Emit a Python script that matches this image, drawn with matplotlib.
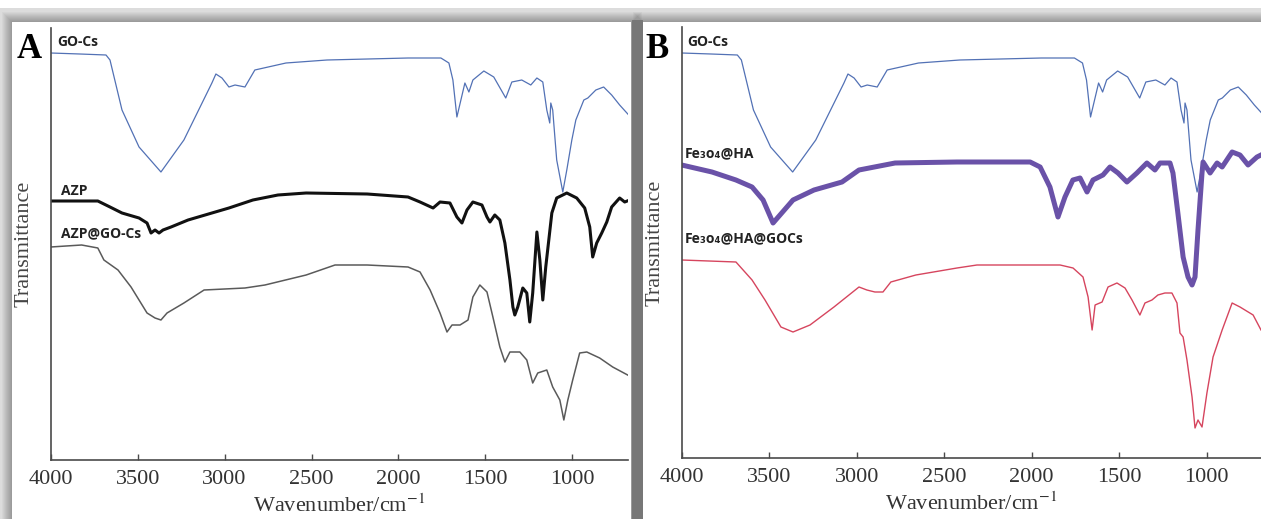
import numpy as np
import matplotlib
matplotlib.use("Agg")
import matplotlib.pyplot as plt
from matplotlib.patches import Rectangle

plt.rcParams['mathtext.fontset'] = 'stix'

### Spectra (wavenumber in cm-1, transmittance in a.u.) ###

# GO-Cs (same spectrum in both panels)
wn_gocs = [4000, 3832, 3682, 3659, 3590, 3492, 3366, 3234, 3073, 3050, 3015, 2975, 2940, 2883,
           2826, 2647, 2411, 1945, 1756, 1710, 1687, 1664, 1641, 1618, 1595, 1572, 1509, 1452,
           1383, 1348, 1291, 1239, 1204, 1170, 1147, 1130, 1124, 1113, 1090, 1055, 1032, 1003,
           980, 934, 911, 865, 820, 774, 728, 676]
t_gocs = [407, 406, 405, 400, 350, 313, 288, 320, 377, 386, 382, 373, 375, 373,
          390, 397, 400, 402, 402, 397, 380, 343, 360, 377, 368, 380, 389, 383,
          362, 378, 380, 375, 382, 378, 350, 337, 357, 350, 300, 268, 290, 320,
          340, 360, 362, 370, 373, 365, 355, 345]

# AZP
wn_azp = [4000, 3729, 3659, 3590, 3492, 3446, 3423, 3400, 3377, 3354, 3308, 3210, 3073, 2975,
          2837, 2693, 2531, 2180, 1945, 1876, 1801, 1761, 1704, 1664, 1635, 1606, 1572, 1520,
          1491, 1474, 1446, 1417, 1388, 1359, 1342, 1331, 1314, 1285, 1262, 1245, 1228, 1204,
          1187, 1170, 1153, 1118, 1090, 1032, 975, 929, 900, 883, 860, 831, 802, 774, 728, 699, 670]
t_azp = [259, 259, 253, 247, 242, 237, 227, 230, 227, 230, 233, 240, 247, 252,
         260, 265, 267, 266, 263, 258, 252, 258, 257, 243, 237, 250, 258, 255,
         243, 238, 245, 240, 217, 180, 153, 145, 153, 172, 167, 138, 167, 228,
         200, 160, 193, 247, 262, 267, 262, 252, 233, 203, 217, 227, 238, 253, 262, 258, 260]

# AZP@GO-Cs
wn_azpgo = [4000, 3822, 3729, 3694, 3613, 3538, 3446, 3400, 3366, 3331, 3234, 3118, 2883, 2768,
            2531, 2365, 2180, 1945, 1876, 1818, 1761, 1721, 1692, 1646, 1600, 1572, 1532, 1491,
            1457, 1417, 1388, 1359, 1302, 1262, 1228, 1199, 1147, 1113, 1072, 1049, 1026, 998,
            958, 917, 843, 768, 682]
t_azpgo = [213, 215, 212, 200, 190, 173, 147, 142, 140, 147, 157, 170, 172, 175,
           185, 195, 195, 193, 188, 170, 147, 128, 135, 135, 140, 163, 175, 168,
           143, 113, 98, 108, 108, 100, 77, 87, 90, 73, 60, 40, 60, 80,
           107, 108, 102, 93, 85]

# Fe3O4@HA
wn_feha = [4000, 3827, 3690, 3598, 3535, 3478, 3364, 3244, 3084, 2987, 2781, 2427, 2009, 1952,
           1896, 1850, 1810, 1765, 1724, 1684, 1650, 1593, 1553, 1507, 1456, 1399, 1342, 1296,
           1267, 1210, 1193, 1165, 1135, 1107, 1084, 1067, 1050, 1027, 1021, 981, 941, 912,
           855, 810, 764, 713, 690]
t_feha = [295, 288, 280, 273, 260, 237, 260, 270, 278, 290, 297, 298, 298, 293,
          273, 243, 263, 280, 282, 268, 280, 285, 293, 287, 278, 287, 297, 290,
          297, 297, 287, 247, 203, 183, 175, 183, 230, 287, 298, 287, 297, 293,
          308, 305, 295, 303, 305]

# Fe3O4@HA@GOCs
wn_fehago = [4000, 3690, 3598, 3524, 3433, 3364, 3267, 3130, 2987, 2942, 2896, 2850, 2805, 2662,
             2427, 2313, 1952, 1838, 1764, 1707, 1678, 1655, 1638, 1598, 1564, 1513, 1467, 1427,
             1382, 1353, 1313, 1279, 1239, 1199, 1170, 1153, 1135, 1113, 1084, 1067, 1050, 1027,
             999, 964, 912, 855, 810, 735, 690]
t_fehago = [200, 198, 180, 160, 133, 128, 135, 153, 173, 170, 168, 168, 178, 185,
            192, 195, 195, 195, 192, 183, 163, 130, 155, 158, 173, 177, 172, 160,
            145, 157, 160, 165, 167, 167, 157, 127, 123, 100, 63, 32, 40, 33,
            67, 103, 130, 157, 153, 145, 130]

xticks = [4000, 3500, 3000, 2500, 2000, 1500, 1000]

W, H = 1261, 519
fig = plt.figure(figsize=(W / 100, H / 100), dpi=100)
fig.patch.set_facecolor('white')


def px_rect(x, y, w, h, **kw):
    # rectangle in pixel coords (origin top-left)
    r = Rectangle((x / W, 1 - (y + h) / H), w / W, h / H, transform=fig.transFigure, **kw)
    fig.patches.append(r)


# card shadows + white cards
px_rect(0, 8, W, H - 8, color='#dcdcdc', lw=0, zorder=0)
px_rect(632, 20, 11, H, color='#a9a9a9', lw=0, zorder=0.1)
for i in range(10):
    g = 10 - i
    px_rect(12 - g, 22 - g, 620 + 2 * g, H, color='black', alpha=0.03, lw=0, zorder=0.2)
    px_rect(643 - g, 22 - g, 630 + g, H, color='black', alpha=0.03, lw=0, zorder=0.2)
px_rect(12, 22, 619, H, color='white', lw=0, zorder=0.5)
px_rect(643, 22, 630, H, color='white', lw=0, zorder=0.5)


def style_axis(ax):
    ax.patch.set_alpha(0)
    for s in ['top', 'right']:
        ax.spines[s].set_visible(False)
    for s in ['left', 'bottom']:
        ax.spines[s].set_color('#4a4a4a')
        ax.spines[s].set_linewidth(1.2)
    ax.set_xticks(xticks)
    ax.set_yticks([])
    ax.tick_params(axis='x', direction='in', length=4, width=1, color='#4a4a4a', pad=7,
                   labelsize=16, labelcolor='#333333')
    for lbl in ax.get_xticklabels():
        lbl.set_fontfamily('Liberation Serif')
    ax.set_xlabel('Wavenumber/cm$^{-1}$', fontsize=16, family='Liberation Serif',
                  color='#333333', labelpad=4)
    ax.set_ylabel('Transmittance', fontsize=16, family='Liberation Serif',
                  color='#444444', labelpad=12)


# Panel A
axA = fig.add_axes([50.7 / W, 1 - 460 / H, (628 - 50.7) / W, 432 / H], zorder=2)
axA.plot(wn_gocs, t_gocs, color='#5271b5', lw=0.9)
axA.plot(wn_azp, t_azp, color='#111111', lw=2.2)
axA.plot(wn_azpgo, t_azpgo, color='#5a5a5a', lw=1.1)
axA.set_xlim(4000, 680)
axA.set_ylim(0, 432)
style_axis(axA)

# Panel B
axB = fig.add_axes([681.7 / W, 1 - 458 / H, (W - 681.7) / W, 431 / H], zorder=2)
axB.plot(wn_gocs, t_gocs, color='#5271b5', lw=0.9)
axB.plot(wn_feha, t_feha, color='#6a52a8', lw=3.6)
axB.plot(wn_fehago, t_fehago, color='#d6455e', lw=1.0)
axB.set_xlim(4000, 690)
axB.set_ylim(2, 433)
style_axis(axB)

# panel letters and curve labels
fig.text(29.5 / W, 1 - 50 / H, 'A', fontsize=25, fontweight='bold', family='Liberation Serif',
         ha='center', va='center')
fig.text(657 / W, 1 - 49 / H, 'B', fontsize=25, fontweight='bold', family='Liberation Serif',
         ha='center', va='center')

sans = ['Open Sans', 'DejaVu Sans']
fig.text(57 / W, 1 - 42 / H, 'GO-Cs', va='center', fontsize=10, fontweight='bold',
         family=sans, color='#222222')
fig.text(61 / W, 1 - 191 / H, 'AZP', va='center', fontsize=10, fontweight='bold',
         family=sans, color='#222222')
fig.text(61 / W, 1 - 233 / H, 'AZP@GO-Cs', va='center', fontsize=10, fontweight='bold',
         family=sans, color='#222222')
fig.text(687 / W, 1 - 42 / H, 'GO-Cs', va='center', fontsize=10, fontweight='bold',
         family=sans, color='#222222')
fig.text(685 / W, 1 - 153 / H, 'Fe\u2083o\u2084@HA', va='center', fontsize=10, fontweight='bold',
         family=sans, color='#222222')
fig.text(685 / W, 1 - 238 / H, 'Fe\u2083o\u2084@HA@GOCs', va='center', fontsize=10,
         fontweight='bold', family=sans, color='#222222')

fig.savefig('out.png', dpi=100)
